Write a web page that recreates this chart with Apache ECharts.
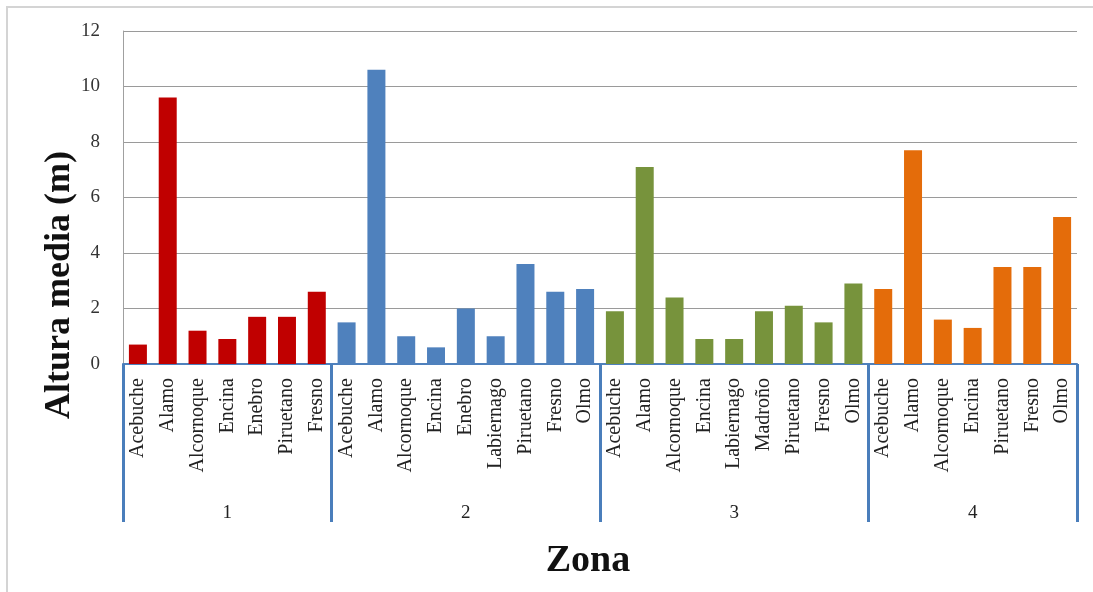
<!DOCTYPE html>
<html>
<head>
<meta charset="utf-8">
<script src="https://cdn.jsdelivr.net/npm/echarts@6/dist/echarts.min.js"></script>
<style>
html, body { margin: 0; padding: 0; background: #fff; }
#mainArea { width: 1093px; height: 592px; }
</style>
</head>
<body>
<div id="mainArea"></div>
<script>
var zoneNames = ['1', '2', '3', '4'];
var zoneColors = ['#c00000', '#4f81bd', '#77933c', '#e46c0a'];

var zone1Species = ['Acebuche', 'Alamo', 'Alcornoque', 'Encina', 'Enebro', 'Piruetano', 'Fresno'];
var zone1Values = [0.7, 9.6, 1.2, 0.9, 1.7, 1.7, 2.6];

var zone2Species = ['Acebuche', 'Alamo', 'Alcornoque', 'Encina', 'Enebro', 'Labiernago', 'Piruetano', 'Fresno', 'Olmo'];
var zone2Values = [1.5, 10.6, 1.0, 0.6, 2.0, 1.0, 3.6, 2.6, 2.7];

var zone3Species = ['Acebuche', 'Alamo', 'Alcornoque', 'Encina', 'Labiernago', 'Madroño', 'Piruetano', 'Fresno', 'Olmo'];
var zone3Values = [1.9, 7.1, 2.4, 0.9, 0.9, 1.9, 2.1, 1.5, 2.9];

var zone4Species = ['Acebuche', 'Alamo', 'Alcornoque', 'Encina', 'Piruetano', 'Fresno', 'Olmo'];
var zone4Values = [2.7, 7.7, 1.6, 1.3, 3.5, 3.5, 5.3];

var yTicks = [0, 2, 4, 6, 8, 10, 12];

var serif = '"Liberation Serif", "DejaVu Serif", serif';

// flatten the zones into one category axis
var zoneSpecies = [zone1Species, zone2Species, zone3Species, zone4Species];
var zoneValues = [zone1Values, zone2Values, zone3Values, zone4Values];
var categories = [];
var barData = [];
var zoneLabels = [];
var zoneStarts = [];
for (var z = 0; z < zoneSpecies.length; z++) {
	zoneStarts.push(categories.length);
	var mid = Math.floor(zoneSpecies[z].length / 2);
	for (var i = 0; i < zoneSpecies[z].length; i++) {
		categories.push(zoneSpecies[z][i]);
		barData.push({ value: zoneValues[z][i], itemStyle: { color: zoneColors[z] } });
		zoneLabels.push(i === mid ? zoneNames[z] : '');
	}
}

var myChart = echarts.init(document.getElementById('mainArea'));
var option = {
	animation: false,
	grid: { left: 123, right: 16, top: 31, bottom: 228, containLabel: false },
	graphic: [
		{
			type: 'rect',
			shape: { x: 7, y: 7, width: 1120, height: 640 },
			style: { fill: 'none', stroke: '#d4d4d4', lineWidth: 2 },
			silent: true
		},
		{
			type: 'text',
			x: 60, y: 285,
			rotation: Math.PI / 2,
			style: {
				text: 'Altura media (m)',
				font: 'bold 36px ' + serif,
				fill: '#111',
				align: 'center',
				verticalAlign: 'middle'
			}
		},
		{
			type: 'text',
			x: 588, y: 561,
			style: {
				text: 'Zona',
				font: 'bold 38px ' + serif,
				fill: '#111',
				align: 'center',
				verticalAlign: 'middle'
			}
		}
	],
	xAxis: [
		{
			type: 'category',
			data: categories,
			axisLine: { show: true, lineStyle: { color: '#4f81bd', width: 2 } },
			axisTick: {
				show: true,
				alignWithLabel: false,
				length: 158,
				lineStyle: { color: '#4a7ebb', width: 3 },
				interval: function (index) { return zoneStarts.indexOf(index) >= 0; }
			},
			axisLabel: {
				interval: 0,
				rotate: 90,
				margin: 14,
				fontFamily: serif,
				fontSize: 20,
				color: '#222'
			}
		},
		{
			type: 'category',
			position: 'bottom',
			data: categories,
			axisLine: { show: false },
			axisTick: { show: false },
			axisLabel: {
				interval: 0,
				margin: 140,
				fontFamily: serif,
				fontSize: 19,
				color: '#222',
				formatter: function (value, index) { return zoneLabels[index]; }
			}
		}
	],
	yAxis: {
		type: 'value',
		min: yTicks[0],
		max: yTicks[yTicks.length - 1],
		interval: 2,
		axisLine: { show: true, lineStyle: { color: '#a0a0a0', width: 1 } },
		axisTick: { show: false },
		axisLabel: { margin: 23, fontFamily: serif, fontSize: 19, color: '#333' },
		splitLine: { lineStyle: { color: '#9a9a9a', width: 1 } }
	},
	series: [
		{
			type: 'bar',
			data: barData,
			barWidth: 18,
			xAxisIndex: 0
		}
	]
};
myChart.setOption(option);
</script>
</body>
</html>
